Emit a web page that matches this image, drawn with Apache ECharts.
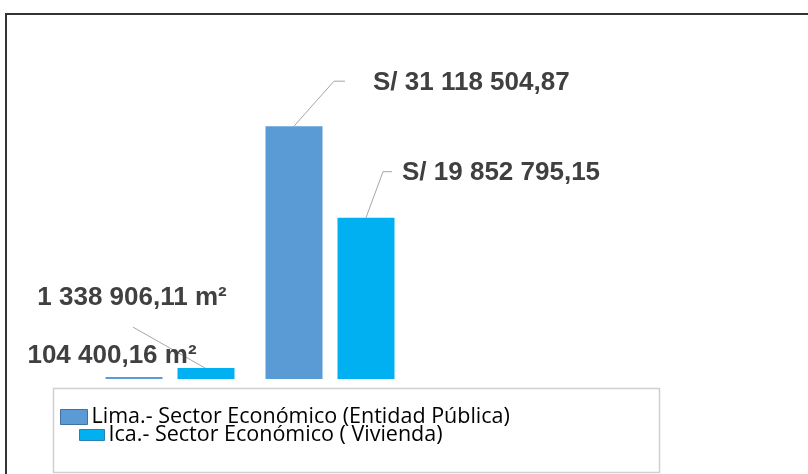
<!DOCTYPE html>
<html>
<head>
<meta charset="utf-8">
<script src="https://cdn.jsdelivr.net/npm/echarts@6/dist/echarts.min.js"></script>
<style>
  html, body { margin: 0; padding: 0; background: #fff; }
  #main { width: 808px; height: 474px; }
</style>
</head>
<body>
<div id="main"></div>
<script>
// datos
var categorias = ['Área', 'Monto'];
var prefijos = ['', 'S/ '];
var sufijos = [' m²', ''];
var limaValores = [104400.16, 31118504.87];
var icaValores = [1338906.11, 19852795.15];
var nombreLima = 'Lima.- Sector Económico (Entidad Pública)';
var nombreIca = 'Ica.- Sector Económico ( Vivienda)';

// estilo
var anchoBarra = 57;
var espacioBarra = 15;
// posicion de etiquetas respecto al centro superior de la barra [dx, dy, align]
var posEtiquetas = [
    [[-22, -21, 'center'], [79, -43, 'left']],
    [[-74, -70, 'center'], [36, -45, 'left']]
];
// lineas guia (relativas al centro superior de la barra)
var lineasGuia = [
    [null, [[0, 0], [40, -45], [51, -45]]],
    [[[1, 1], [-73, -41]], [[0, 0], [17, -46], [26, -46]]]
];

function formatear(v) {
    var partes = v.toFixed(2).split('.');
    var entero = partes[0].replace(/\B(?=(\d{3})+(?!\d))/g, ' ');
    return entero + ',' + partes[1];
}

var myChart = echarts.init(document.getElementById('main'));

function serie(nombre, valores, color, idx) {
    return {
        name: nombre,
        type: 'bar',
        data: valores,
        barWidth: anchoBarra,
        barGap: (espacioBarra / anchoBarra * 100) + '%',
        barMinHeight: 2,
        itemStyle: { color: color },
        label: {
            show: true,
            position: 'top',
            color: '#404040',
            fontFamily: 'Liberation Sans, Arial',
            fontWeight: 'bold',
            fontSize: 26,
            formatter: function (p) {
                return prefijos[p.dataIndex] + formatear(p.value) + sufijos[p.dataIndex];
            }
        },
        labelLayout: function (p) {
            var o = posEtiquetas[idx][p.dataIndex];
            return {
                x: p.rect.x + p.rect.width / 2 + o[0],
                y: p.rect.y + o[1],
                align: o[2],
                verticalAlign: 'middle'
            };
        }
    };
}

var option = {
    animation: false,
    grid: { left: 90, width: 320, top: 54, bottom: 95 },
    xAxis: {
        type: 'category',
        data: categorias,
        axisLine: { show: false },
        axisTick: { show: false },
        axisLabel: { show: false }
    },
    yAxis: {
        type: 'value',
        min: 0,
        max: 40000000,
        show: false,
        splitLine: { show: false }
    },
    legend: [
        {
            data: [nombreLima],
            left: 60,
            top: 406,
            padding: 0,
            itemWidth: 27,
            itemHeight: 15,
            itemGap: 5,
            icon: 'rect',
            itemStyle: { borderColor: '#41719c', borderWidth: 1 },
            textStyle: { fontFamily: 'Open Sans', fontSize: 21.5, color: '#000', lineHeight: 15, padding: [0, 0, 0, -1] }
        },
        {
            data: [nombreIca],
            left: 79,
            top: 424,
            padding: 0,
            itemWidth: 25,
            itemHeight: 11,
            icon: 'rect',
            itemStyle: { borderColor: '#2f7fb5', borderWidth: 1 },
            textStyle: { fontFamily: 'Open Sans', fontSize: 21.5, color: '#000', lineHeight: 11, padding: [0, 0, 0, -1] }
        }
    ],
    series: [
        serie(nombreLima, limaValores, '#5b9bd5', 0),
        serie(nombreIca, icaValores, '#00b0f0', 1)
    ]
};

myChart.setOption(option);

// marcos y lineas guia a partir de las escalas del grafico
var graficos = [
    {
        type: 'rect',
        shape: { x: 6, y: 14, width: 900, height: 500 },
        style: { fill: null, stroke: '#333', lineWidth: 2 },
        silent: true
    },
    {
        type: 'rect',
        shape: { x: 53.5, y: 388.5, width: 606, height: 84 },
        style: { fill: null, stroke: '#d0d0d0', lineWidth: 1.5 },
        silent: true
    }
];
var todos = [limaValores, icaValores];
for (var s = 0; s < 2; s++) {
    for (var i = 0; i < categorias.length; i++) {
        var puntos = lineasGuia[s][i];
        if (!puntos) continue;
        var px = myChart.convertToPixel({ seriesIndex: s }, [i, todos[s][i]]);
        var cx = px[0] + (s === 0 ? -1 : 1) * (anchoBarra + espacioBarra) / 2;
        graficos.push({
            type: 'polyline',
            shape: { points: puntos.map(function (q) { return [cx + q[0], px[1] + q[1]]; }) },
            style: { fill: null, stroke: '#a6a6a6', lineWidth: 1 },
            silent: true
        });
    }
}
myChart.setOption({ graphic: graficos });
</script>
</body>
</html>
